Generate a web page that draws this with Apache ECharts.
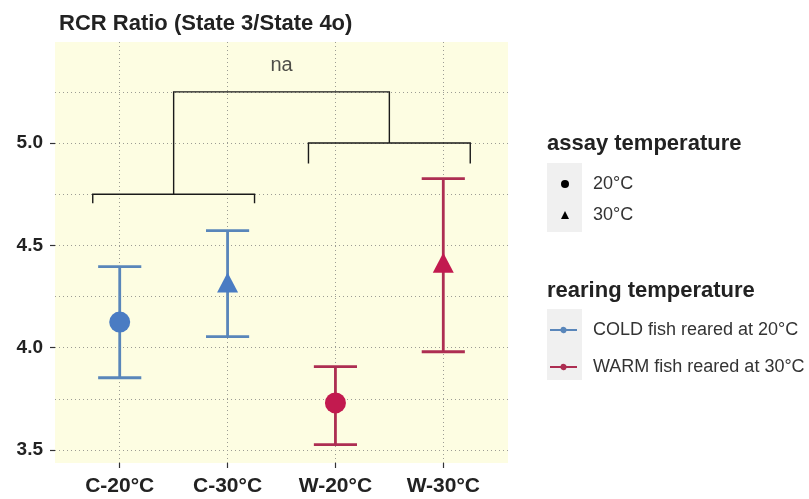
<!DOCTYPE html>
<html>
<head>
<meta charset="utf-8">
<script src="https://cdn.jsdelivr.net/npm/echarts@6/dist/echarts.min.js"></script>
<style>html,body{margin:0;padding:0;background:#fff}#c{width:809px;height:499px}</style>
</head>
<body>
<div id="c"></div>
<script>
// ---- data ----
const categories = ['C-20°C', 'C-30°C', 'W-20°C', 'W-30°C'];
const catPos = [1, 2, 3, 4];
const means = [4.125, 4.318, 3.73, 4.415];
const lower = [3.853, 4.054, 3.526, 3.98];
const upper = [4.396, 4.572, 3.907, 4.826];
const assay = ['20°C', '30°C', '20°C', '30°C'];
const rearing = ['COLD fish reared at 20°C', 'COLD fish reared at 20°C', 'WARM fish reared at 30°C', 'WARM fish reared at 30°C'];
const yTicks = [3.5, 4.0, 4.5, 5.0];
const yGrid = [3.5, 3.75, 4.0, 4.25, 4.5, 4.75, 5.0, 5.25];
// significance brackets (polylines in data coords)
const bracketLeft = [[0.75, 4.706], [0.75, 4.75], [2.25, 4.75], [2.25, 4.706]];
const bracketRight = [[2.75, 4.9], [2.75, 5.0], [4.25, 5.0], [4.25, 4.9]];
const bracketTop = [[1.5, 4.75], [1.5, 5.25], [3.5, 5.25], [3.5, 5.0]];
const sigLabel = 'na';
const sigLabelPos = [2.5, 5.38];

const BLUE_PT = '#4a7cc3', BLUE_LN = '#5986ba';
const RED_PT = '#c21a4f', RED_LN = '#ad2e52';
const colorPt = r => r.startsWith('COLD') ? BLUE_PT : RED_PT;
const FONT = 'Liberation Sans, Arial, sans-serif';

function pts(a) {
  const out = [];
  for (let i = 0; i < categories.length; i++) if (assay[i] === a) out.push({ value: [catPos[i], means[i]], itemStyle: { color: colorPt(rearing[i]) } });
  return out;
}
function bars(r) {
  const out = [];
  for (let i = 0; i < categories.length; i++) if (rearing[i] === r) out.push([catPos[i], lower[i], upper[i]]);
  return out;
}
const capHalf = 0.2;
function errRender(params, api) {
  const x = api.value(0), lo = api.value(1), hi = api.value(2);
  const pLo = api.coord([x, lo]), pHi = api.coord([x, hi]);
  const cl = api.coord([x - capHalf, hi]), cr = api.coord([x + capHalf, hi]);
  const bl = api.coord([x - capHalf, lo]), br = api.coord([x + capHalf, lo]);
  const st = { stroke: api.visual('color'), lineWidth: 2.8, fill: null };
  return { type: 'group', children: [
    { type: 'line', shape: { x1: pLo[0], y1: pLo[1], x2: pHi[0], y2: pHi[1] }, style: st },
    { type: 'line', shape: { x1: cl[0], y1: cl[1], x2: cr[0], y2: cr[1] }, style: st },
    { type: 'line', shape: { x1: bl[0], y1: bl[1], x2: br[0], y2: br[1] }, style: st }
  ]};
}
const brackets = [bracketLeft, bracketRight, bracketTop];
function bracketRender(params, api) {
  const poly = brackets[params.dataIndex].map(p => api.coord(p));
  return { type: 'polyline', shape: { points: poly }, style: { stroke: '#1a1a1a', lineWidth: 1.4, fill: null } };
}

const legendIconLine = 'path://M0,4H11.65A3.5,3.5,0,0,1,18.35,4H30V6H18.35A3.5,3.5,0,0,1,11.65,6H0Z';

const gridLines = yGrid.map(v => ({ yAxis: v })).concat(catPos.map(v => ({ xAxis: v })));

const option = {
  animation: false,
  backgroundColor: '#ffffff',
  title: [
    { text: 'RCR Ratio (State 3/State 4o)', left: 59, top: 13, padding: 0, textStyle: { fontFamily: FONT, fontSize: 22, fontWeight: 'bold', color: '#222' } },
    { text: 'assay temperature', left: 547, top: 133, padding: 0, textStyle: { fontFamily: FONT, fontSize: 22, fontWeight: 'bold', color: '#222' } },
    { text: 'rearing temperature', left: 547, top: 280, padding: 0, textStyle: { fontFamily: FONT, fontSize: 22, fontWeight: 'bold', color: '#222' } }
  ],
  graphic: [
    { type: 'rect', left: 547, top: 163, shape: { width: 35, height: 69 }, style: { fill: '#f0f0f0' }, z: -1 },
    { type: 'rect', left: 547, top: 309, shape: { width: 35, height: 71 }, style: { fill: '#f0f0f0' }, z: -1 }
  ],
  legend: [
    {
      orient: 'vertical', left: 561, top: 174, padding: 0, itemGap: 11, itemWidth: 8, itemHeight: 8,
      data: [
        { name: '20°C', icon: 'circle', itemStyle: { color: '#000' } },
        { name: '30°C', icon: 'triangle', itemStyle: { color: '#000' } }
      ],
      textStyle: { fontFamily: FONT, fontSize: 18, color: '#333', lineHeight: 20, padding: [0, 0, 0, 19] },
      selectedMode: false
    },
    {
      orient: 'vertical', left: 550, top: 320, padding: 0, itemGap: 17, itemWidth: 27, itemHeight: 7,
      data: [
        { name: 'COLD fish reared at 20°C', icon: legendIconLine, itemStyle: { color: BLUE_LN } },
        { name: 'WARM fish reared at 30°C', icon: legendIconLine, itemStyle: { color: RED_LN } }
      ],
      textStyle: { fontFamily: FONT, fontSize: 18, color: '#333', lineHeight: 20, padding: [0, 0, 0, 11] },
      selectedMode: false
    }
  ],
  grid: { left: 55, top: 42, width: 453, height: 421, show: true, backgroundColor: '#fdfde2', borderWidth: 0, containLabel: false },
  xAxis: {
    type: 'value', min: 0.4, max: 4.6,
    axisLine: { show: false },
    splitLine: { show: false },
    axisTick: { show: true, customValues: catPos, length: 5, lineStyle: { color: '#333', width: 1.2 } },
    axisLabel: { customValues: catPos, formatter: v => categories[catPos.indexOf(v)] || '', margin: 13, fontFamily: FONT, fontSize: 21, fontWeight: 'bold', color: '#222' }
  },
  yAxis: {
    type: 'value', min: 3.4365, max: 5.4937,
    axisLine: { show: false },
    splitLine: { show: false },
    axisTick: { show: true, customValues: yTicks, length: 5, lineStyle: { color: '#333', width: 1.2 } },
    axisLabel: { customValues: yTicks, formatter: v => v.toFixed(1), margin: 12, fontFamily: FONT, fontSize: 19, fontWeight: 'bold', color: '#222' }
  },
  series: [
    {
      type: 'line', name: 'grid', data: [], silent: true, symbol: 'none', z: 1,
      markLine: { silent: true, symbol: 'none', label: { show: false }, animation: false, z: 1,
        lineStyle: { type: [1, 3], color: '#9c9c94', width: 1 }, data: gridLines }
    },
    { type: 'custom', name: 'COLD fish reared at 20°C', renderItem: errRender, data: bars('COLD fish reared at 20°C'), itemStyle: { color: BLUE_LN }, encode: { x: 0, y: [1, 2] }, z: 10 },
    { type: 'custom', name: 'WARM fish reared at 30°C', renderItem: errRender, data: bars('WARM fish reared at 30°C'), itemStyle: { color: RED_LN }, encode: { x: 0, y: [1, 2] }, z: 10 },
    { type: 'scatter', name: '20°C', symbol: 'circle', symbolSize: 21, data: pts('20°C'), itemStyle: { opacity: 1 }, z: 12 },
    { type: 'scatter', name: '30°C', symbol: 'triangle', symbolSize: [21, 20], data: pts('30°C'), itemStyle: { opacity: 1 }, z: 12 },
    { type: 'custom', name: 'brackets', renderItem: bracketRender, data: brackets.map((b, i) => [b[0][0], b[1][1], i]), encode: { x: 0, y: 1 }, z: 8, silent: true },
    { type: 'scatter', name: 'sig', data: [sigLabelPos], symbolSize: 1, itemStyle: { color: 'rgba(0,0,0,0)' }, silent: true, z: 8,
      label: { show: true, position: 'inside', formatter: sigLabel, fontFamily: FONT, fontSize: 20, color: '#222' } }
  ]
};
const chart = echarts.init(document.getElementById('c'), null, { renderer: 'canvas' });
chart.setOption(option);
</script>
</body>
</html>
